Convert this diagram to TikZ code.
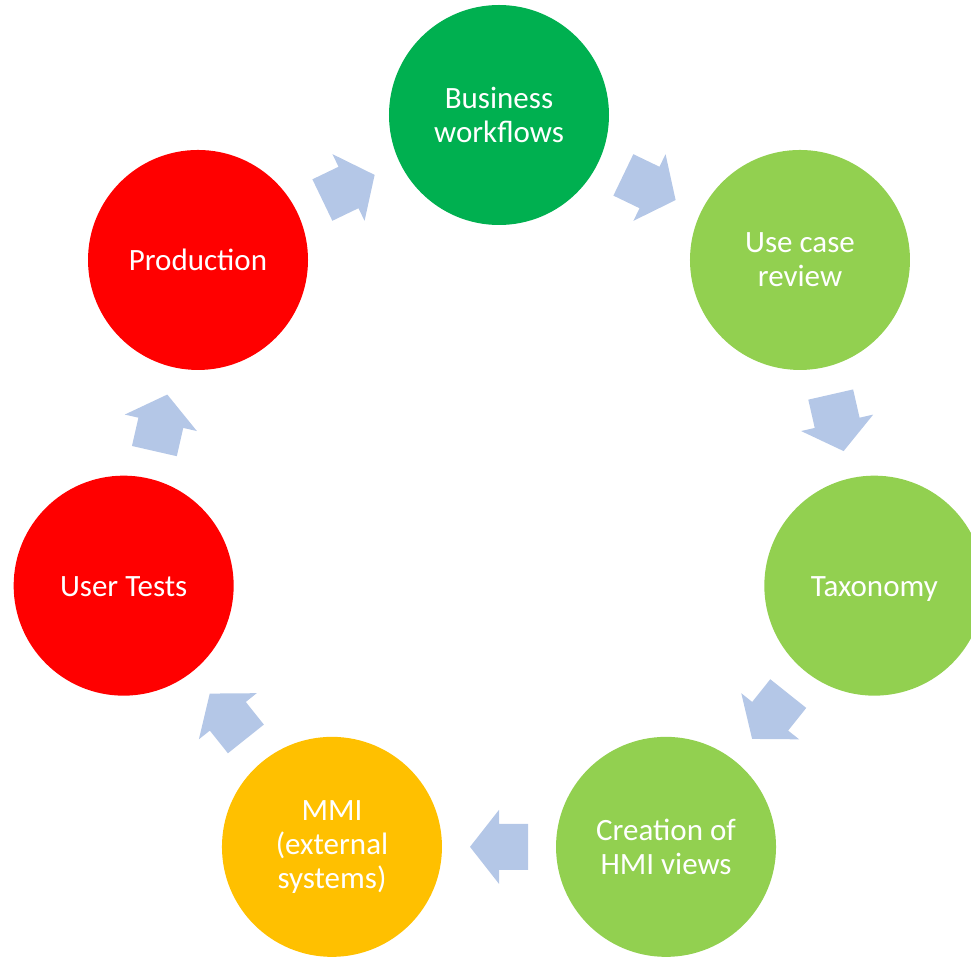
\documentclass[tikz,border=0pt]{standalone}
\usepackage{fontspec}
\setmainfont{Carlito}
\usetikzlibrary{positioning, calc}

\definecolor{darkgreen}{HTML}{00B050}
\definecolor{lightgreen}{HTML}{92D050}
\definecolor{amber}{HTML}{FFC000}
\definecolor{brightred}{HTML}{FF0000}
\definecolor{arrowblue}{HTML}{B4C7E7}

\tikzset{
  stage/.style={circle, minimum size=220pt, inner sep=0pt, text=white, align=center,
    font=\fontsize{31}{34}\selectfont},
  oneline/.style={text height=24pt, text depth=2pt},
  flowarrow/.style={fill=arrowblue, draw=none},
}

\begin{document}
\begin{tikzpicture}[x=1pt, y=1pt]
  \useasboundingbox (-499,-458) rectangle (472,500);

  % Stages
  \node[stage, fill=darkgreen] (business) at (90:385) {Business\\workflows};
  \node[stage, fill=lightgreen] (usecase) at (38.571:385) {Use case\\review};
  \node[stage, oneline, fill=lightgreen] (taxonomy) at (-12.857:385) {Taxonomy};
  \node[stage, fill=lightgreen] (hmi) at (-64.286:385) {Creation of\\HMI views};
  \node[stage, fill=amber] (mmi) at (-115.714:385) {MMI\\(external\\systems)};
  \node[stage, oneline, fill=brightred] (usertests) at (-167.143:385) {User Tests};
  \node[stage, oneline, fill=brightred] (production) at (141.429:385) {Production};

  % Arrows
  \foreach \from/\to/\dir in {business/usecase/-25.714, usecase/taxonomy/-77.143,
      taxonomy/hmi/-128.571, hmi/mmi/-180, mmi/usertests/-231.429,
      usertests/production/-282.857, production/business/-334.286}
  {
    \begin{scope}[shift={($(\from)!0.5!(\to)$)}, rotate=\dir]
      \fill[flowarrow] (-29,23) -- (0,23) -- (0,37) -- (29,0) -- (0,-37) -- (0,-23) -- (-29,-23) -- cycle;
    \end{scope}
  }
\end{tikzpicture}
\end{document}
